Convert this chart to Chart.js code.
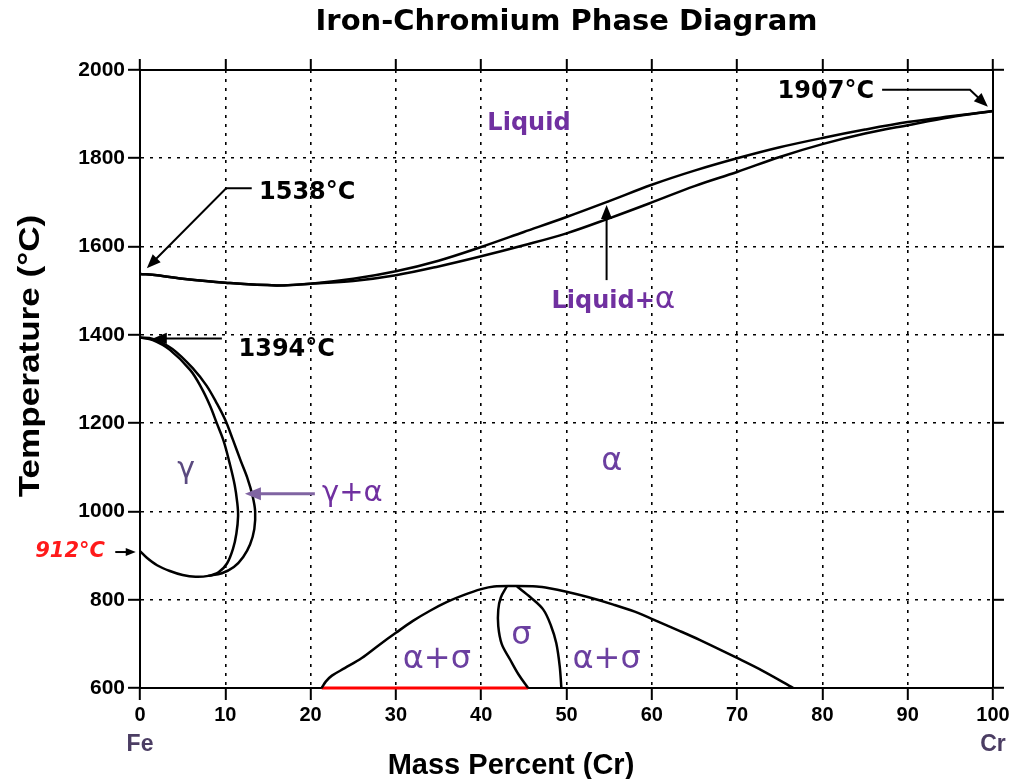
<!DOCTYPE html>
<html>
<head>
<meta charset="utf-8">
<title>Iron-Chromium Phase Diagram</title>
<script src="https://cdn.jsdelivr.net/npm/chart.js@4.4.1/dist/chart.umd.min.js"></script>
<style>
  html, body { margin: 0; padding: 0; background: #fff; }
  #wrap { width: 1024px; height: 779px; }
</style>
</head>
<body>
<div id="wrap"><canvas id="phase-chart" width="1024" height="779"></canvas></div>
<script>
// Phase boundaries (x = mass % Cr, T = °C)
const liquidusX = [0, 2, 5, 10, 16, 20, 25, 30, 35, 40, 45, 50, 55, 60, 65, 70, 75, 80, 85, 90, 95, 100];
const liquidusT = [1538, 1535, 1527, 1518, 1512, 1516, 1527, 1544, 1568, 1599, 1633, 1667, 1703, 1740, 1772, 1800, 1825, 1846, 1865, 1882, 1895, 1907];
const solidusX = [0, 2, 5, 10, 16, 20, 25, 30, 35, 40, 45, 50, 55, 60, 65, 70, 75, 80, 85, 90, 95, 100];
const solidusT = [1538, 1535, 1527, 1518, 1512, 1516, 1522, 1535, 1555, 1578, 1603, 1630, 1664, 1700, 1737, 1769, 1803, 1832, 1856, 1875, 1893, 1907];

// gamma loop: inner (gamma / gamma+alpha) and outer (gamma+alpha / alpha)
const gammaInX = [0, 1.5, 3.5, 5.9, 7.2, 8.2, 9.0, 9.8, 10.5, 11.1, 11.4, 11.5, 11.3, 10.9, 10.2, 9.2, 8.0, 6.5, 5.0, 3.5, 2.0, 0.8, 0];
const gammaInT = [1394, 1388, 1366, 1320, 1280, 1240, 1200, 1160, 1110, 1060, 1020, 990, 950, 915, 882, 862, 854, 852, 856, 865, 878, 895, 910];
const gammaOutX = [0, 1.5, 3.8, 6.3, 7.8, 9.0, 10.0, 10.9, 11.8, 12.6, 13.2, 13.5, 13.4, 12.9, 12.1, 11.0, 9.6, 8.0];
const gammaOutT = [1394, 1391, 1368, 1322, 1285, 1245, 1207, 1162, 1115, 1075, 1035, 1000, 960, 925, 897, 874, 860, 854];

// alpha / alpha+sigma dome and the sigma field
const domeX = [21.3, 21.8, 22.5, 24, 26, 28, 30, 32, 34, 36, 38, 40, 41.5, 44, 46.5, 48, 50, 52.5, 55.5, 58, 60.2, 63.3, 65.6, 70, 73, 76.6];
const domeT = [600, 615, 628, 645, 668, 697, 725, 752, 775, 795, 811, 824, 830, 831, 830, 826, 818, 806, 789, 773, 755, 729, 709, 668, 639, 600];
const sigmaLeftX = [43, 42.3, 42, 42, 42.4, 43.4, 44.4, 45.5];
const sigmaLeftT = [830, 805, 777, 740, 700, 664, 630, 600];
const sigmaRightX = [44.2, 45.8, 47.3, 48.2, 48.8, 49.2, 49.4];
const sigmaRightT = [830, 805, 777, 740, 702, 650, 600];

// red segment along the 600 °C edge
const redX = [21.3, 45.5];
const redT = [600, 600];

const SANS = '"Liberation Sans", Arial, sans-serif';
const VERD = '"DejaVu Sans", Verdana, sans-serif';
const PURPLE = '#7030a0';
const GREEK = '#6b3fa0';

function zip(xs, ts) {
    return xs.map((x, i) => ({ x: x, y: ts[i] }));
}

function curve(xs, ts, color) {
    return {
        data: zip(xs, ts),
        showLine: true,
        borderColor: color || '#000',
        borderWidth: 2.5,
        pointRadius: 0,
        tension: 0.35,
        clip: false
    };
}

function drawArrow(ctx, pts, color, width, head) {
    ctx.save();
    ctx.strokeStyle = color;
    ctx.fillStyle = color;
    ctx.lineWidth = width;
    const n = pts.length;
    const [x1, y1] = pts[n - 2];
    const [x2, y2] = pts[n - 1];
    const a = Math.atan2(y2 - y1, x2 - x1);
    ctx.beginPath();
    ctx.moveTo(pts[0][0], pts[0][1]);
    for (let i = 1; i < n - 1; i++) ctx.lineTo(pts[i][0], pts[i][1]);
    ctx.lineTo(x2 - head * 0.8 * Math.cos(a), y2 - head * 0.8 * Math.sin(a));
    ctx.stroke();
    const w = head * 0.4;
    ctx.beginPath();
    ctx.moveTo(x2, y2);
    ctx.lineTo(x2 - head * Math.cos(a) + w * Math.sin(a), y2 - head * Math.sin(a) - w * Math.cos(a));
    ctx.lineTo(x2 - head * Math.cos(a) - w * Math.sin(a), y2 - head * Math.sin(a) + w * Math.cos(a));
    ctx.closePath();
    ctx.fill();
    ctx.restore();
}

function text(ctx, str, x, y, font, color, rot, stretch) {
    ctx.save();
    ctx.font = font;
    ctx.fillStyle = color;
    ctx.textAlign = 'center';
    ctx.textBaseline = 'middle';
    ctx.translate(x, y);
    if (rot) ctx.rotate(rot);
    if (stretch) ctx.scale(stretch, 1);
    ctx.fillText(str, 0, 0);
    ctx.restore();
}

// Labels, arrows and axis titles drawn on top of the chart
const phaseLabels = {
    id: 'phaseLabels',
    afterDraw(chart) {
        const ctx = chart.ctx;
        const px = v => chart.scales.x.getPixelForValue(v);
        const py = v => chart.scales.y.getPixelForValue(v);
        const bold = 'bold 24px ' + VERD;

        // melting / transformation points
        text(ctx, '1907°C', px(80.4), py(1950), bold, '#000');
        drawArrow(ctx, [[px(87), py(1955)], [px(97.3), py(1955)], [px(99.4), py(1917)]], '#000', 2, 14);
        text(ctx, '1538°C', px(19.6), py(1721), bold, '#000');
        drawArrow(ctx, [[px(13.1), py(1732)], [px(10.1), py(1732)], [px(0.8), py(1551)]], '#000', 2, 14);
        text(ctx, '1394°C', px(17.2), py(1366), bold, '#000');
        drawArrow(ctx, [[px(9.6), py(1392)], [px(1.5), py(1392)]], '#000', 2, 14);
        text(ctx, '912°C', px(-8.2), py(908), 'italic bold 21px ' + VERD, '#ff1a1a');
        drawArrow(ctx, [[px(-2.9), py(908)], [px(-0.5), py(908)]], '#000', 2, 10);

        // phase fields
        text(ctx, 'Liquid', px(45.6), py(1878), 'bold 24px ' + VERD, PURPLE);
        ctx.save();
        ctx.font = 'bold 24px ' + VERD;
        const w1 = ctx.measureText('Liquid+').width;
        ctx.font = '31px ' + VERD;
        const w2 = ctx.measureText('α').width;
        ctx.restore();
        const lx = px(55.5) - (w1 + w2) / 2;
        text(ctx, 'Liquid+', lx + w1 / 2, py(1474), 'bold 24px ' + VERD, PURPLE);
        text(ctx, 'α', lx + w1 + w2 / 2, py(1478), '31px ' + VERD, PURPLE);
        drawArrow(ctx, [[px(54.7), py(1524)], [px(54.7), py(1694)]], '#000', 2, 14);

        text(ctx, 'γ', px(5.4), py(1094), '30px ' + VERD, '#5b4a80');
        text(ctx, 'γ+α', px(24.9), py(1040), '29px ' + VERD, PURPLE);
        drawArrow(ctx, [[px(20.5), py(1040)], [px(12.3), py(1040)]], '#8064a2', 3, 16);
        text(ctx, 'α', px(55.3), py(1112), '32px ' + VERD, GREEK);
        text(ctx, 'σ', px(44.7), py(718), '32px ' + VERD, GREEK);
        text(ctx, 'α+σ', px(34.8), py(664), '32px ' + VERD, GREEK);
        text(ctx, 'α+σ', px(54.7), py(664), '32px ' + VERD, GREEK);

        // element labels and axis titles
        text(ctx, 'Fe', px(0), 745, 'bold 23px ' + SANS, '#4b3d63');
        text(ctx, 'Cr', px(100), 745, 'bold 23px ' + SANS, '#4b3d63');
        text(ctx, 'Mass Percent (Cr)', 511, 766, 'bold 29px ' + SANS, '#000');
        text(ctx, 'Temperature (°C)', 31, 356, 'bold 30px ' + SANS, '#000', -Math.PI / 2, 1.17);
    }
};

const gridStyle = {
    color: '#000',
    lineWidth: 1.6,
    tickLength: 12,
    tickWidth: 2,
    tickColor: '#000',
    tickBorderDash: []
};

new Chart(document.getElementById('phase-chart'), {
    type: 'scatter',
    data: {
        datasets: [
            curve(liquidusX, liquidusT),
            curve(solidusX, solidusT),
            curve(gammaInX, gammaInT),
            curve(gammaOutX, gammaOutT),
            curve(domeX, domeT),
            curve(sigmaLeftX, sigmaLeftT),
            curve(sigmaRightX, sigmaRightT),
            Object.assign(curve(redX, redT, '#ff0000'), { tension: 0, borderWidth: 3 })
        ]
    },
    options: {
        responsive: false,
        animation: false,
        layout: { padding: 0 },
        plugins: {
            legend: { display: false },
            tooltip: { enabled: false },
            title: {
                display: true,
                text: 'Iron-Chromium Phase Diagram',
                fullSize: false,
                color: '#000',
                font: { family: VERD, size: 29, weight: 'bold' },
                padding: { top: 5, bottom: 0 }
            }
        },
        scales: {
            x: {
                type: 'linear',
                position: 'bottom',
                min: 0,
                max: 100,
                ticks: { stepSize: 10, color: '#000', padding: 3, font: { family: SANS, size: 20, weight: 'bold' }, callback: v => String(v) },
                grid: gridStyle,
                border: { display: true, color: '#000', width: 2, dash: [3, 6] },
                afterFit: s => { s.height = 91; }
            },
            y: {
                type: 'linear',
                position: 'left',
                min: 600,
                max: 2000,
                ticks: { stepSize: 200, color: '#000', padding: 3, font: { family: SANS, size: 21, weight: 'bold' }, callback: v => String(v) },
                grid: gridStyle,
                border: { display: true, color: '#000', width: 2, dash: [3, 6] },
                afterFit: s => { s.width = 140; }
            },
            xTop: {
                type: 'linear',
                position: 'top',
                min: 0,
                max: 100,
                ticks: { stepSize: 10, display: false },
                grid: Object.assign({}, gridStyle, { drawOnChartArea: false, tickLength: 11 }),
                border: { display: true, color: '#000', width: 2 },
                afterFit: s => { s.height = 30.2; }
            },
            yRight: {
                type: 'linear',
                position: 'right',
                min: 600,
                max: 2000,
                ticks: { stepSize: 200, display: false },
                grid: Object.assign({}, gridStyle, { drawOnChartArea: false, tickLength: 11 }),
                border: { display: true, color: '#000', width: 2 },
                afterFit: s => { s.width = 31; }
            }
        }
    },
    plugins: [phaseLabels]
});
</script>
</body>
</html>
